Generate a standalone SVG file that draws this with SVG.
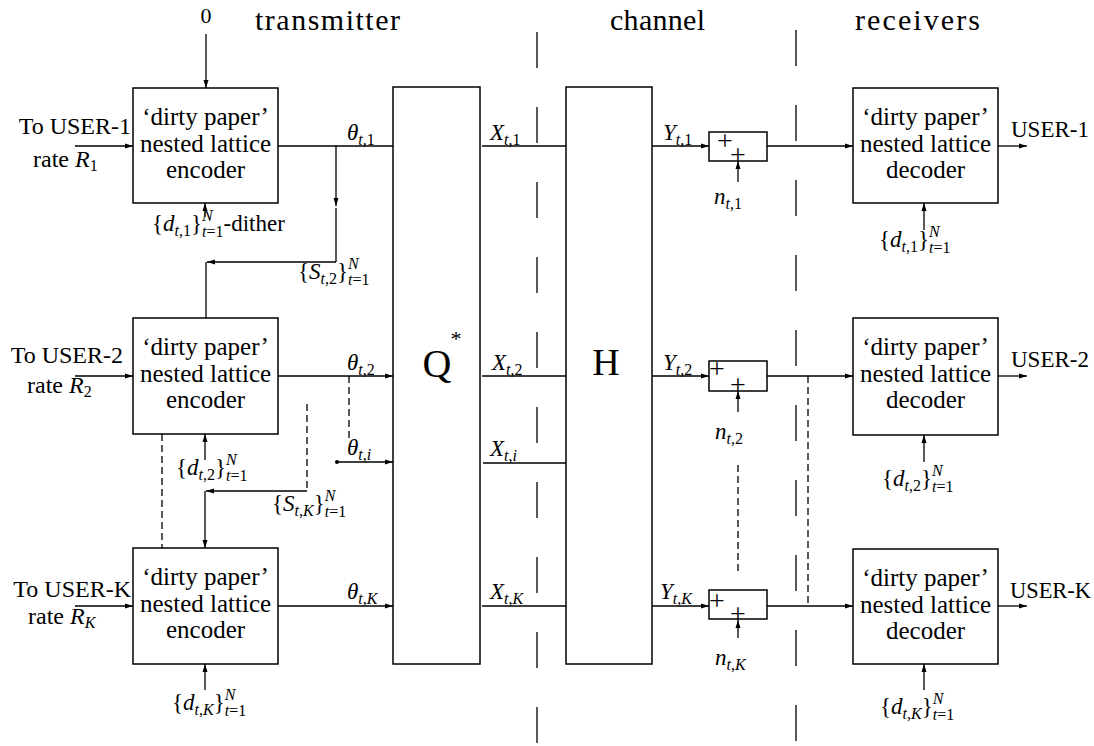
<svg xmlns="http://www.w3.org/2000/svg" width="1094" height="746" viewBox="0 0 1094 746">
<defs>
<marker id="ah" markerUnits="userSpaceOnUse" markerWidth="8" markerHeight="6" refX="8" refY="3" orient="auto"><path d="M0,0.5 L8,3 L0,5.5 z" fill="#000"/></marker>
<style>
.t{font-family:"Liberation Serif","Times New Roman",serif;fill:#000}
.bx{fill:#fff;stroke:#000;stroke-width:1.5}
.c{fill:none;stroke:#000;stroke-width:1.3}
.a{marker-end:url(#ah)}
.d{stroke-dasharray:7 4}
.div{fill:none;stroke:#000;stroke-width:1.3;stroke-dasharray:36 39}
.bt{font-size:25px;text-anchor:middle}
.lb{font-size:24px}
.m{font-size:23px}
.s{font-size:16px}
.i{font-style:italic}
.ti{font-size:30px}
.pl{font-size:28px;text-anchor:middle}
</style>
</defs>
<rect width="1094" height="746" fill="#fff"/>

<g id="titles" class="t">
<text class="ti" x="255" y="30" textLength="145" lengthAdjust="spacing">transmitter</text>
<text class="ti" x="610" y="30" textLength="95" lengthAdjust="spacing">channel</text>
<text class="ti" x="855" y="30" textLength="125" lengthAdjust="spacing">receivers</text>
<text x="206" y="23" font-size="22" text-anchor="middle">0</text>
</g>

<g id="dividers">
<path class="div" d="M537,32 V745"/>
<path class="div" d="M796,30 V745"/>
</g>

<g id="connectors">
<path class="c a" d="M206,34 V88"/>
<path class="c a" d="M75,146 H133"/>
<path class="c a" d="M75,376 H133"/>
<path class="c a" d="M75,606 H133"/>
<path class="c" d="M278,146 H393"/>
<path class="c a" d="M278,376 H393"/>
<path class="c a" d="M337,462 H393"/>
<circle cx="337" cy="462" r="2" fill="#000"/>
<path class="c a" d="M278,606 H393"/>
<path class="c d" d="M349,376 V442"/>
<path class="c a" d="M336,146 V206"/>
<path class="c" d="M336,208 V262"/>
<path class="c a" d="M336,262 H207"/>
<path class="c" d="M206,262 V318"/>
<path class="c d" d="M307,404 V491"/>
<path class="c a" d="M307,491 H206"/>
<path class="c a" d="M205,491 V548"/>
<path class="c d" d="M162,434 V548"/>
<path class="c a" d="M205,217 V203"/>
<path class="c a" d="M205,460 V434"/>
<path class="c a" d="M205,690 V664"/>
<path class="c" d="M482,146 H566"/>
<path class="c" d="M482,376 H566"/>
<path class="c" d="M483,463 H566"/>
<path class="c" d="M482,606 H566"/>
<path class="c a" d="M652,146 H709"/>
<path class="c a" d="M652,376 H709"/>
<path class="c a" d="M652,606 H709"/>
<path class="c a" d="M738,182 V161"/>
<path class="c a" d="M738,412 V391"/>
<path class="c a" d="M738,638 V620"/>
<path class="c a" d="M767,146 H853"/>
<path class="c a" d="M767,376 H853"/>
<path class="c a" d="M767,606 H853"/>
<path class="c a" d="M998,146 H1027"/>
<path class="c a" d="M998,376 H1027"/>
<path class="c a" d="M998,606 H1027"/>
<path class="c a" d="M924,230 V203"/>
<path class="c a" d="M924,462 V435"/>
<path class="c a" d="M924,690 V664"/>
<path class="c d" d="M738,465 V572"/>
<path class="c d" d="M808,376 V606"/>
</g>

<g id="enc1" class="t">
<rect class="bx" x="133" y="88" width="145" height="115"/>
<text class="bt" x="205.5" y="125">‘dirty paper’</text>
<text class="bt" x="205.5" y="152">nested lattice</text>
<text class="bt" x="205.5" y="178">encoder</text>
</g>
<g id="enc2" class="t">
<rect class="bx" x="133" y="318" width="145" height="116"/>
<text class="bt" x="205.5" y="355">‘dirty paper’</text>
<text class="bt" x="205.5" y="382">nested lattice</text>
<text class="bt" x="205.5" y="408">encoder</text>
</g>
<g id="encK" class="t">
<rect class="bx" x="133" y="548" width="145" height="116"/>
<text class="bt" x="205.5" y="585">‘dirty paper’</text>
<text class="bt" x="205.5" y="612">nested lattice</text>
<text class="bt" x="205.5" y="638">encoder</text>
</g>

<g id="inputs" class="t lb">
<text x="131" y="134" text-anchor="end">To USER-1</text>
<text x="33" y="167">rate <tspan class="i">R</tspan><tspan class="s" dy="4">1</tspan></text>
<text x="123" y="363" text-anchor="end">To USER-2</text>
<text x="27" y="393">rate <tspan class="i">R</tspan><tspan class="s" dy="4">2</tspan></text>
<text x="131" y="597" text-anchor="end">To USER-K</text>
<text x="28" y="624">rate <tspan class="i">R</tspan><tspan class="s" dy="4"><tspan class="i">K</tspan></tspan></text>
</g>

<g id="quantizer" class="t">
<rect class="bx" x="393" y="87" width="87" height="577"/>
<text x="437" y="377" font-size="40" text-anchor="middle">Q</text>
<text x="456" y="346" font-size="22" text-anchor="middle">*</text>
</g>

<g id="channelH" class="t">
<rect class="bx" x="566" y="87" width="86" height="577"/>
<text x="606" y="375" font-size="38" text-anchor="middle">H</text>
</g>

<g id="add1" class="t">
<rect class="bx" x="709" y="132" width="58" height="29"/>
<text class="pl" x="725" y="150">+</text>
<text class="pl" x="738" y="164">+</text>
</g>
<g id="add2" class="t">
<rect class="bx" x="709" y="361" width="58" height="30"/>
<text class="pl" x="717" y="378">+</text>
<text class="pl" x="738" y="394">+</text>
</g>
<g id="addK" class="t">
<rect class="bx" x="709" y="590" width="58" height="29"/>
<text class="pl" x="717" y="610">+</text>
<text class="pl" x="738" y="623">+</text>
</g>

<g id="dec1" class="t">
<rect class="bx" x="853" y="88" width="145" height="115"/>
<text class="bt" x="925.5" y="125">‘dirty paper’</text>
<text class="bt" x="925.5" y="152">nested lattice</text>
<text class="bt" x="925.5" y="178">decoder</text>
</g>
<g id="dec2" class="t">
<rect class="bx" x="853" y="318" width="145" height="117"/>
<text class="bt" x="925.5" y="355">‘dirty paper’</text>
<text class="bt" x="925.5" y="382">nested lattice</text>
<text class="bt" x="925.5" y="408">decoder</text>
</g>
<g id="decK" class="t">
<rect class="bx" x="853" y="549" width="145" height="115"/>
<text class="bt" x="925.5" y="586">‘dirty paper’</text>
<text class="bt" x="925.5" y="613">nested lattice</text>
<text class="bt" x="925.5" y="639">decoder</text>
</g>

<g id="outputs" class="t" font-size="23">
<text x="1011" y="137">USER-1</text>
<text x="1011" y="367">USER-2</text>
<text x="1010" y="598" textLength="81" lengthAdjust="spacingAndGlyphs">USER-K</text>
</g>

<g id="labels" class="t m">
<text x="347" y="140"><tspan class="i">θ</tspan><tspan class="s" dy="5"><tspan class="i">t</tspan>,1</tspan></text>
<text x="347" y="370"><tspan class="i">θ</tspan><tspan class="s" dy="5"><tspan class="i">t</tspan>,2</tspan></text>
<text x="347" y="455"><tspan class="i">θ</tspan><tspan class="s" dy="5"><tspan class="i">t</tspan>,<tspan class="i">i</tspan></tspan></text>
<text x="347" y="599"><tspan class="i">θ</tspan><tspan class="s" dy="5"><tspan class="i">t</tspan>,<tspan class="i">K</tspan></tspan></text>

<text x="490" y="140"><tspan class="i">X</tspan><tspan class="s" dy="5"><tspan class="i">t</tspan>,1</tspan></text>
<text x="492" y="370"><tspan class="i">X</tspan><tspan class="s" dy="5"><tspan class="i">t</tspan>,2</tspan></text>
<text x="490" y="456"><tspan class="i">X</tspan><tspan class="s" dy="5"><tspan class="i">t</tspan>,<tspan class="i">i</tspan></tspan></text>
<text x="490" y="599"><tspan class="i">X</tspan><tspan class="s" dy="5"><tspan class="i">t</tspan>,<tspan class="i">K</tspan></tspan></text>

<text x="663" y="140"><tspan class="i">Y</tspan><tspan class="s" dy="5"><tspan class="i">t</tspan>,1</tspan></text>
<text x="663" y="370"><tspan class="i">Y</tspan><tspan class="s" dy="5"><tspan class="i">t</tspan>,2</tspan></text>
<text x="660" y="599"><tspan class="i">Y</tspan><tspan class="s" dy="5"><tspan class="i">t</tspan>,<tspan class="i">K</tspan></tspan></text>

<text x="714" y="204"><tspan class="i">n</tspan><tspan class="s" dy="5"><tspan class="i">t</tspan>,1</tspan></text>
<text x="715" y="439"><tspan class="i">n</tspan><tspan class="s" dy="5"><tspan class="i">t</tspan>,2</tspan></text>
<text x="715" y="665"><tspan class="i">n</tspan><tspan class="s" dy="5"><tspan class="i">t</tspan>,<tspan class="i">K</tspan></tspan></text>

<text x="152" y="231">{<tspan class="i">d</tspan><tspan class="s" dy="5"><tspan class="i">t</tspan>,1</tspan><tspan dy="-5">}</tspan><tspan class="s i" dy="-10">N</tspan><tspan class="s" dx="-10.7" dy="16"><tspan class="i">t</tspan>=1</tspan><tspan dy="-6">-dither</tspan></text>
<text x="176" y="475">{<tspan class="i">d</tspan><tspan class="s" dy="5"><tspan class="i">t</tspan>,2</tspan><tspan dy="-5">}</tspan><tspan class="s i" dy="-10">N</tspan><tspan class="s" dx="-10.7" dy="16"><tspan class="i">t</tspan>=1</tspan></text>
<text x="172" y="710">{<tspan class="i">d</tspan><tspan class="s" dy="5"><tspan class="i">t</tspan>,<tspan class="i">K</tspan></tspan><tspan dy="-5">}</tspan><tspan class="s i" dy="-10">N</tspan><tspan class="s" dx="-10.7" dy="16"><tspan class="i">t</tspan>=1</tspan></text>

<text x="298" y="279">{<tspan class="i">S</tspan><tspan class="s" dy="5"><tspan class="i">t</tspan>,2</tspan><tspan dy="-5">}</tspan><tspan class="s i" dy="-10">N</tspan><tspan class="s" dx="-10.7" dy="16"><tspan class="i">t</tspan>=1</tspan></text>
<text x="272" y="511">{<tspan class="i">S</tspan><tspan class="s" dy="5"><tspan class="i">t</tspan>,<tspan class="i">K</tspan></tspan><tspan dy="-5">}</tspan><tspan class="s i" dy="-10">N</tspan><tspan class="s" dx="-10.7" dy="16"><tspan class="i">t</tspan>=1</tspan></text>

<text x="879" y="247">{<tspan class="i">d</tspan><tspan class="s" dy="5"><tspan class="i">t</tspan>,1</tspan><tspan dy="-5">}</tspan><tspan class="s i" dy="-10">N</tspan><tspan class="s" dx="-10.7" dy="16"><tspan class="i">t</tspan>=1</tspan></text>
<text x="882" y="486">{<tspan class="i">d</tspan><tspan class="s" dy="5"><tspan class="i">t</tspan>,2</tspan><tspan dy="-5">}</tspan><tspan class="s i" dy="-10">N</tspan><tspan class="s" dx="-10.7" dy="16"><tspan class="i">t</tspan>=1</tspan></text>
<text x="880" y="714">{<tspan class="i">d</tspan><tspan class="s" dy="5"><tspan class="i">t</tspan>,<tspan class="i">K</tspan></tspan><tspan dy="-5">}</tspan><tspan class="s i" dy="-10">N</tspan><tspan class="s" dx="-10.7" dy="16"><tspan class="i">t</tspan>=1</tspan></text>
</g>
</svg>
